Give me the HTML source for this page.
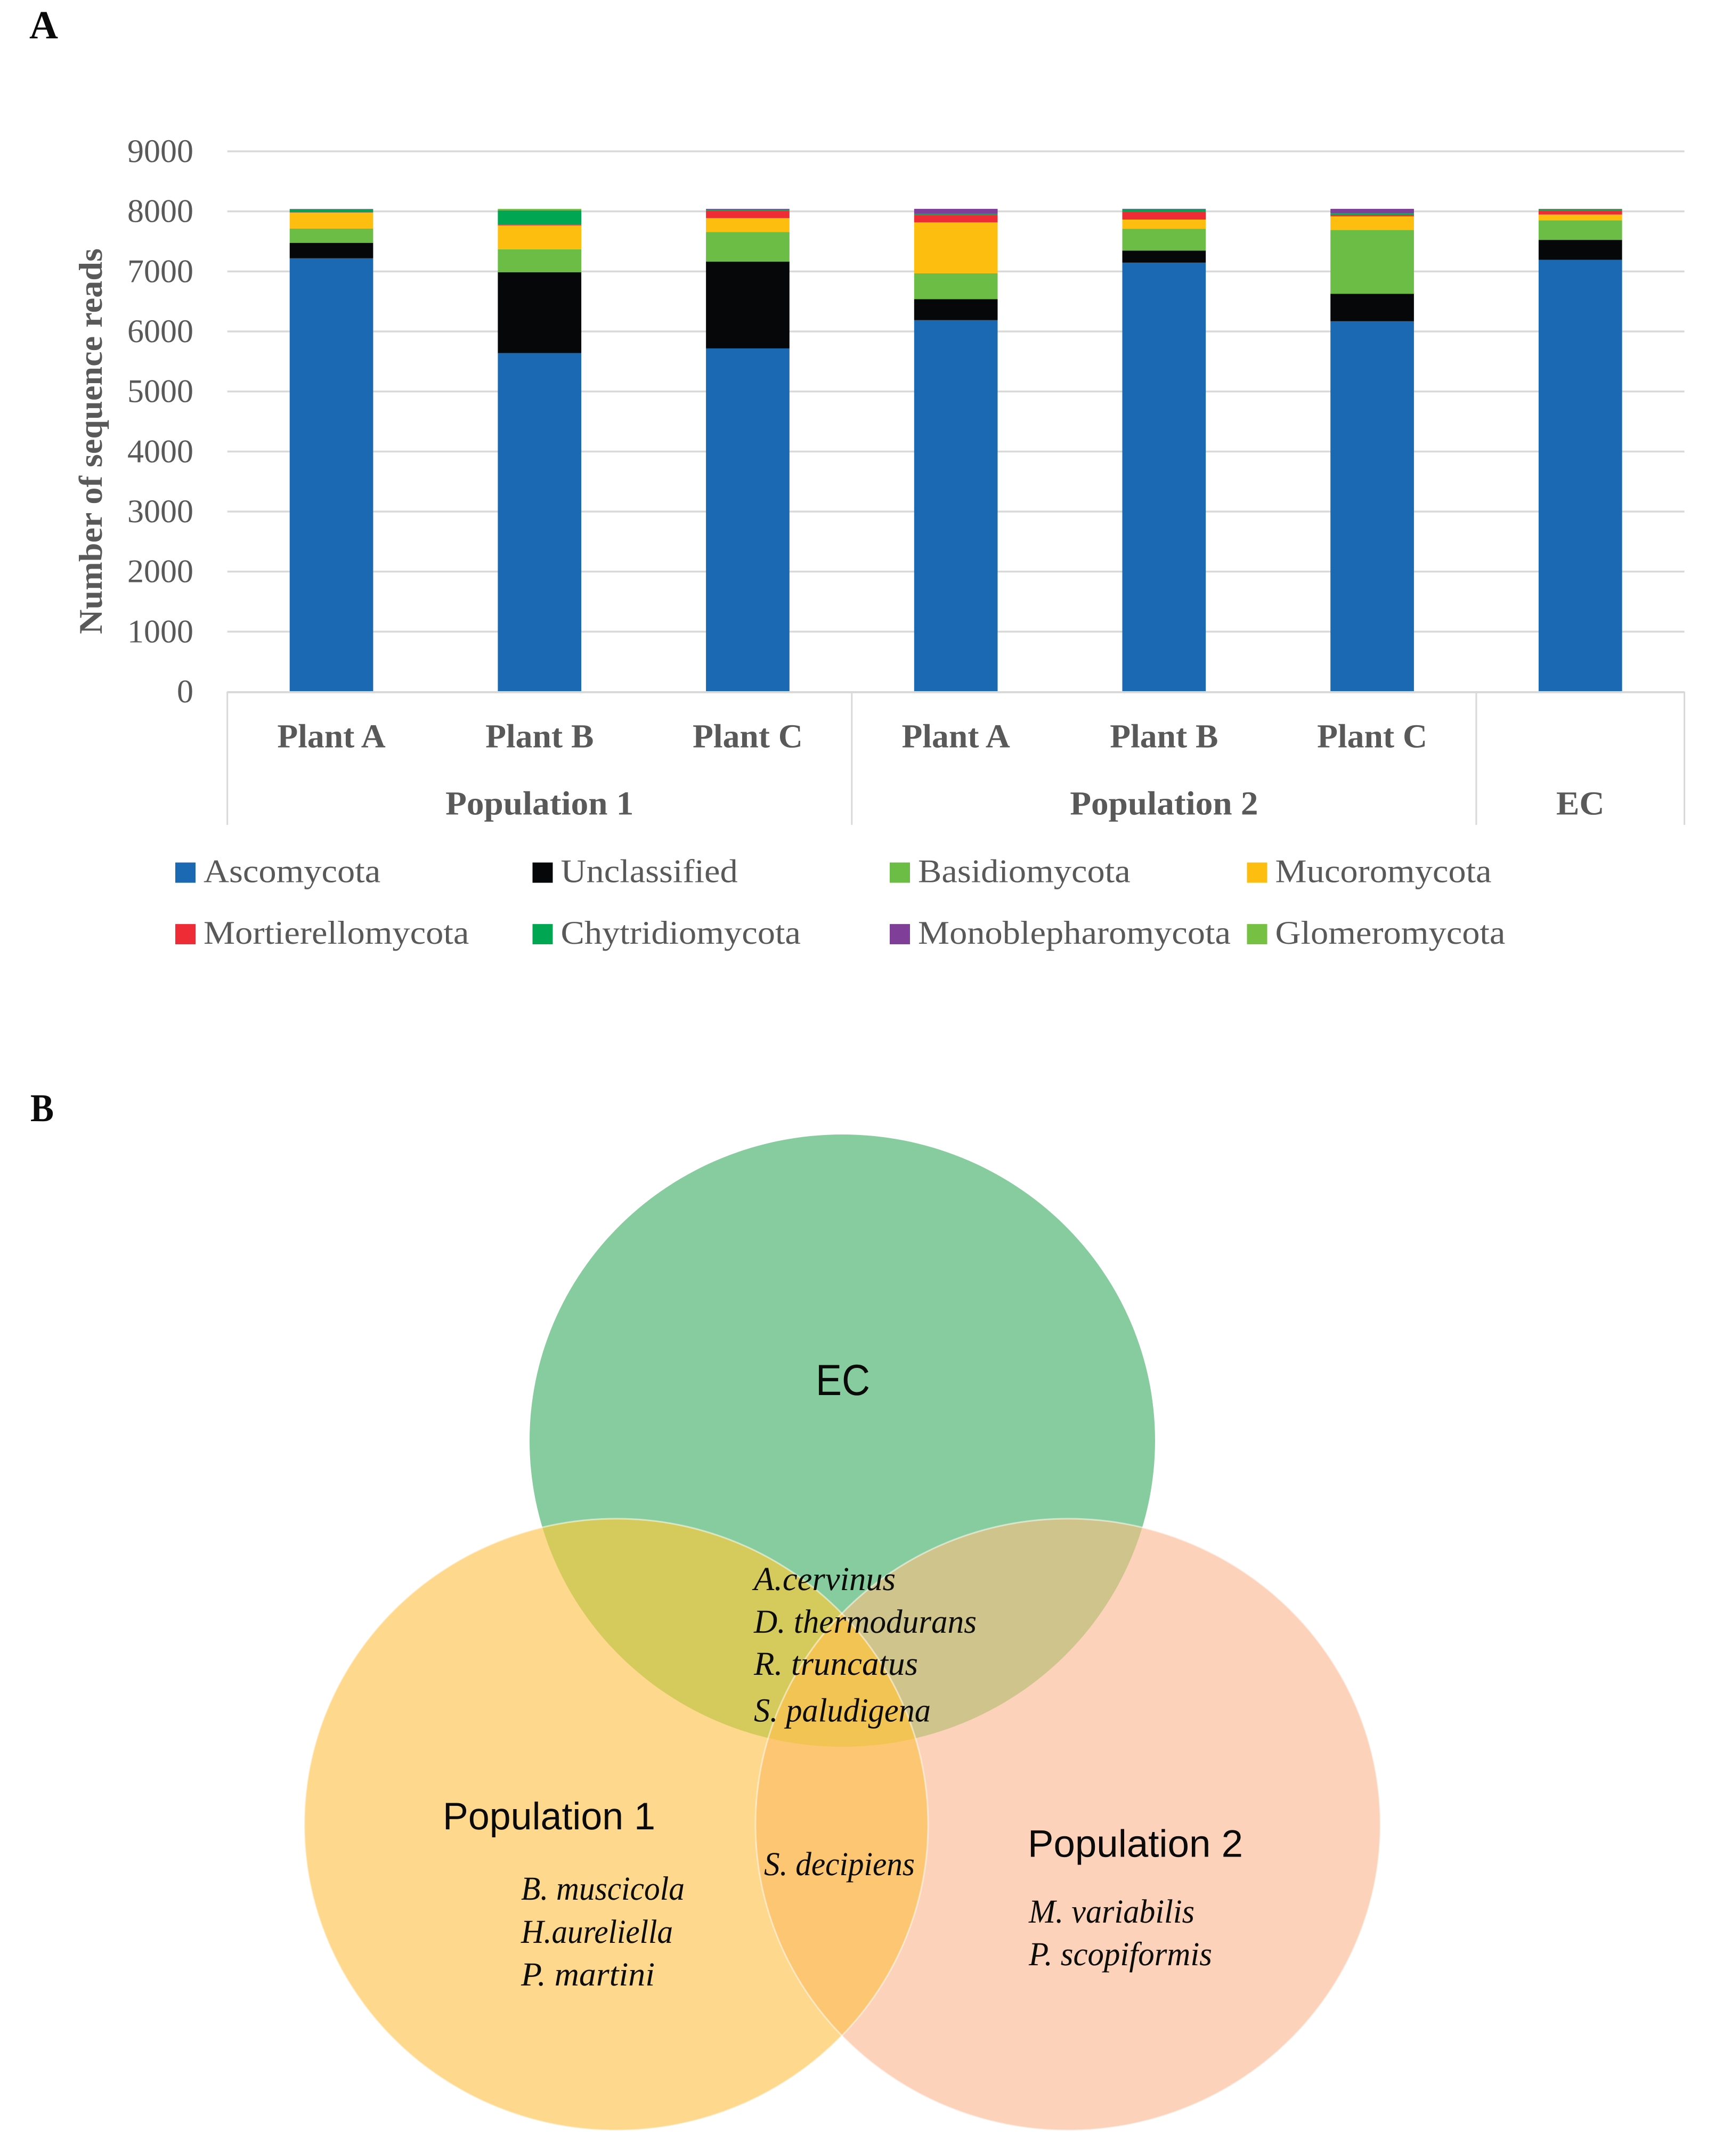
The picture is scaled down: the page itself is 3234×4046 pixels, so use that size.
<!DOCTYPE html>
<html lang="en">
<head>
<meta charset="utf-8">
<title>Fungal sequence reads and shared species</title>
<style>
html,body{margin:0;padding:0;background:#fff;}
svg{display:block;text-rendering:geometricPrecision;}
.serif{font-family:"Liberation Serif",serif;}
.sans{font-family:"Liberation Sans",sans-serif;}
.sp{font-family:"Liberation Serif",serif;font-style:italic;font-size:63px;fill:#0c0c08;}
.vl{font-family:"Liberation Sans",sans-serif;font-size:72px;fill:#0a0a0a;}
</style>
</head>
<body>
<svg id="fig" width="3234" height="4046" viewBox="0 0 3234 4046" xmlns="http://www.w3.org/2000/svg">
  <rect width="3234" height="4046" fill="#fff"/>
  <text class="serif" x="55" y="72" font-size="75" font-weight="bold" fill="#0a0a0a" textLength="54" lengthAdjust="spacingAndGlyphs">A</text>
  <text class="serif" x="57" y="2104" font-size="74" font-weight="bold" fill="#0a0a0a" textLength="44" lengthAdjust="spacingAndGlyphs">B</text>

  <g id="chart"></g>

  <defs>
    <clipPath id="clip-ec"><ellipse cx="1581" cy="2703.5" rx="587" ry="574.5"/></clipPath>
    <clipPath id="clip-p1"><ellipse cx="1156.5" cy="3424" rx="585.5" ry="574"/></clipPath>
    <clipPath id="clip-p2"><ellipse cx="2004.5" cy="3424" rx="586.5" ry="574"/></clipPath>
  </defs>

  <g id="venn">
    <ellipse cx="1581" cy="2703.5" rx="587" ry="574.5" fill="#87cc9e"/>
    <ellipse cx="2004.5" cy="3424" rx="586.5" ry="574" fill="#fdd2bb"/>
    <ellipse cx="1156.5" cy="3424" rx="585.5" ry="574" fill="#fed88d"/>
    <g clip-path="url(#clip-ec)">
      <ellipse cx="2004.5" cy="3424" rx="586.5" ry="574" fill="#cfc48c"/>
    </g>
    <g clip-path="url(#clip-ec)">
      <ellipse cx="1156.5" cy="3424" rx="585.5" ry="574" fill="#d5cb5c"/>
    </g>
    <g clip-path="url(#clip-p1)">
      <ellipse cx="2004.5" cy="3424" rx="586.5" ry="574" fill="#fdc672"/>
    </g>
    <g clip-path="url(#clip-p1)">
      <g clip-path="url(#clip-p2)">
        <ellipse cx="1581" cy="2703.5" rx="587" ry="574.5" fill="#f2c453"/>
      </g>
    </g>
    <ellipse cx="1156.5" cy="3424" rx="585.5" ry="574" fill="none" stroke="#fff" stroke-opacity="0.5" stroke-width="3"/>
    <ellipse cx="2004.5" cy="3424" rx="586.5" ry="574" fill="none" stroke="#fff" stroke-opacity="0.5" stroke-width="3"/>

    <text class="vl" x="1531" y="2622" font-size="82" style="font-size:82px" textLength="102" lengthAdjust="spacingAndGlyphs" transform="translate(0 -4)">EC</text>
    <text class="vl" x="831" y="3433" textLength="399" lengthAdjust="spacingAndGlyphs">Population 1</text>
    <text class="vl" x="1929" y="3484.5" textLength="404" lengthAdjust="spacingAndGlyphs">Population 2</text>

    <text class="sp" x="1415" y="2984" textLength="266" lengthAdjust="spacingAndGlyphs">A.cervinus</text>
    <text class="sp" x="1415" y="3064" textLength="418" lengthAdjust="spacingAndGlyphs">D. thermodurans</text>
    <text class="sp" x="1415" y="3143" textLength="308" lengthAdjust="spacingAndGlyphs">R. truncatus</text>
    <text class="sp" x="1415" y="3230.5" textLength="332" lengthAdjust="spacingAndGlyphs">S. paludigena</text>
    <text class="sp" x="1434" y="3519" textLength="283" lengthAdjust="spacingAndGlyphs">S. decipiens</text>
    <text class="sp" x="978" y="3565" textLength="307" lengthAdjust="spacingAndGlyphs">B. muscicola</text>
    <text class="sp" x="978" y="3646" textLength="285" lengthAdjust="spacingAndGlyphs">H.aureliella</text>
    <text class="sp" x="978" y="3726" textLength="251" lengthAdjust="spacingAndGlyphs">P. martini</text>
    <text class="sp" x="1931" y="3608" textLength="311" lengthAdjust="spacingAndGlyphs">M. variabilis</text>
    <text class="sp" x="1931" y="3688" textLength="344" lengthAdjust="spacingAndGlyphs">P. scopiformis</text>
  </g>
</svg>

<script>
// Chart data
const plants = ['Plant A','Plant B','Plant C','Plant A','Plant B','Plant C',''];
const groupNames = ['Population 1','Population 2','EC'];
const groupSizes = [3,3,1];
const yTicks = [0,1000,2000,3000,4000,5000,6000,7000,8000,9000];
const seriesNames = ['Ascomycota','Unclassified','Basidiomycota','Mucoromycota','Mortierellomycota','Chytridiomycota','Monoblepharomycota','Glomeromycota'];
const ascomycota = [7218,5640,5717,6188,7146,6170,7193];
const unclassified = [258,1347,1446,349,201,458,332];
const basidiomycota = [238,381,494,431,364,1062,325];
const mucoromycota = [266,399,231,849,153,227,97];
const mortierellomycota = [5,15,119,121,128,21,65];
const chytridiomycota = [50,225,26,24,44,30,15];
const monoblepharomycota = [5,10,9,80,6,74,10];
const glomeromycota = [2,25,0,0,1,0,5];

const seriesValues = [ascomycota,unclassified,basidiomycota,mucoromycota,mortierellomycota,chytridiomycota,monoblepharomycota,glomeromycota];
const seriesColors = ['#1b69b3','#060709','#6cbd45','#fdbe10','#ee2c35','#00a651','#7f3f98','#76c043'];

const NS = 'http://www.w3.org/2000/svg';
const root = document.getElementById('chart');
const plotLeft = 426.7, bandWidth = 390.7, barWidth = 156.7;
const plotBottom = 1298, plotTop = 284, yMax = 9000;
const textColor = '#595959';

function x(i){ return plotLeft + bandWidth * i; }
function y(v){ return plotBottom - (plotBottom - plotTop) * v / yMax; }
function slug(s){ return s.toLowerCase().replace(/[^a-z0-9]+/g,'-'); }

function make(tag, props){
  const el = document.createElementNS(NS, tag);
  for (const k in props) el.setAttribute(k, props[k]);
  root.appendChild(el);
  return el;
}
function label(str, px, py, size, weight, anchor, stretch){
  const el = make('text', {x:px, y:py, 'font-size':size, 'font-weight':weight, 'text-anchor':anchor, fill:textColor, class:'serif'});
  el.textContent = str;
  if (stretch !== 1) {
    el.setAttribute('lengthAdjust', 'spacingAndGlyphs');
    el.setAttribute('textLength', el.getComputedTextLength() * stretch);
  }
  return el;
}

// gridlines and y tick labels
yTicks.forEach(function(t){
  if (t !== 0) {
    const g = make('line', {x1:x(0), x2:x(plants.length), y1:y(t), y2:y(t), stroke:'#d9d9d9', 'stroke-width':3.5});
    
    
  }
  const l = label(String(t), 363, y(t) + 20, 62, 'normal', 'end', 1);
  
  
});

// stacked bars
plants.forEach(function(p, i){
  let base = 0;
  seriesValues.forEach(function(vals, s){
    const v = vals[i];
    const r = make('rect', {x:x(i + 0.5) - barWidth / 2, y:y(base + v), width:barWidth, height:y(base) - y(base + v), fill:seriesColors[s]});
    
    
    base += v;
  });
});

// x axis line and group separators
const axis = make('line', {x1:x(0), x2:x(plants.length), y1:plotBottom + 1, y2:plotBottom + 1, stroke:'#d9d9d9', 'stroke-width':4});



let cumulative = 0;
function separator(pos){
  const l = make('line', {x1:x(pos), x2:x(pos), y1:plotBottom, y2:1548, stroke:'#d9d9d9', 'stroke-width':3});
  
  
}
separator(0);
groupNames.forEach(function(g, k){
  const mid = cumulative + groupSizes[k] / 2;
  const t = label(g, x(mid), 1528.6, 63, 'bold', 'middle', 1.035);
  
  
  cumulative += groupSizes[k];
  separator(cumulative);
});

plants.forEach(function(p, i){
  if (!p) return;
  const t = label(p, x(i + 0.5), 1402.6, 63, 'bold', 'middle', 1.01);
  
  
});

// y axis title
const title = make('text', {transform:'translate(191 1190) rotate(-90)', 'font-size':62, 'font-weight':'bold', fill:textColor, class:'serif', textLength:724, lengthAdjust:'spacingAndGlyphs'});
title.textContent = 'Number of sequence reads';



// legend
seriesNames.forEach(function(name, s){
  const col = s % 4, row = Math.floor(s / 4);
  const lx = 329 + 670.5 * col, ly = 1618.6 + 115.5 * row;
  const swatch = make('rect', {x:lx, y:ly, width:38, height:38, fill:seriesColors[s]});
  
  
  const t = label(name, lx + 53, ly + 37, 62, 'normal', 'start', 1.072);
  
  
});
</script>
</body>
</html>
